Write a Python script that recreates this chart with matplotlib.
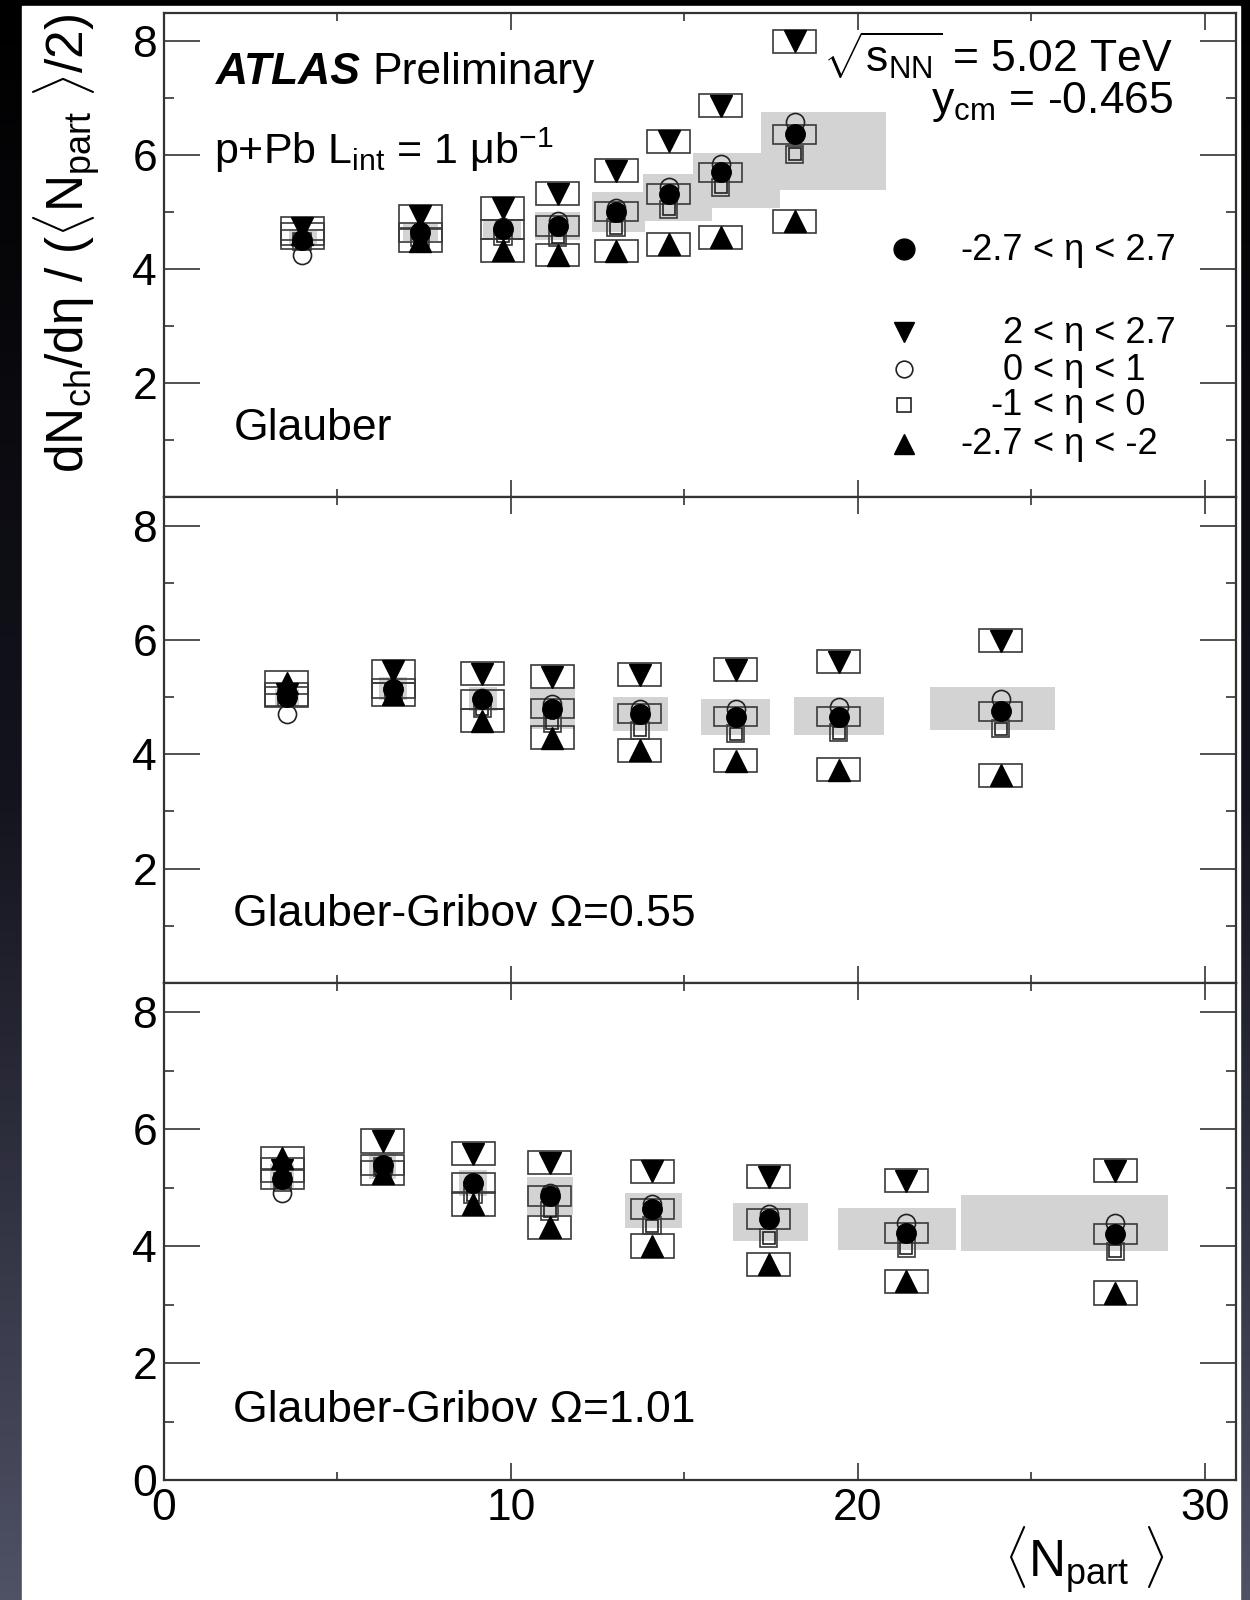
import numpy as np
import matplotlib
matplotlib.use("Agg")
import matplotlib.pyplot as plt
from matplotlib.patches import Rectangle
from matplotlib.colors import LinearSegmentedColormap
from matplotlib.ticker import FixedLocator

plt.rcParams['font.family'] = ['Liberation Sans', 'DejaVu Sans']
plt.rcParams['mathtext.fontset'] = 'custom'
plt.rcParams['mathtext.rm'] = 'Liberation Sans'
plt.rcParams['mathtext.it'] = 'Liberation Sans:italic'
plt.rcParams['mathtext.bf'] = 'Liberation Sans:bold'

# ---- Glauber ----
x1 = [3.98, 7.38, 9.77, 11.35, 13.03, 14.55, 16.05, 18.18]
full1 = [4.52, 4.65, 4.70, 4.76, 5.01, 5.32, 5.70, 6.37]
down1 = [4.72, 4.93, 5.07, 5.33, 5.73, 6.25, 6.87, 8.00]
oc1 = [4.25, 4.62, 4.75, 4.85, 5.08, 5.44, 5.85, 6.58]
sq1 = [4.48, 4.55, 4.58, 4.56, 4.73, 5.05, 5.44, 6.02]
up1 = [4.62, 4.50, 4.33, 4.25, 4.32, 4.44, 4.56, 4.84]
g1_xlo = [3.6, 6.9, 9.2, 10.7, 12.33, 13.8, 15.25, 17.2]
g1_xhi = [4.4, 7.9, 10.3, 12.0, 13.86, 15.8, 17.75, 20.8]
g1_ylo = [4.42, 4.50, 4.55, 4.52, 4.65, 4.84, 5.08, 5.40]
g1_yhi = [4.68, 4.80, 4.88, 5.00, 5.35, 5.67, 6.05, 6.76]

# ---- Glauber-Gribov 0.55 ----
x2 = [3.54, 6.61, 9.18, 11.19, 13.72, 16.48, 19.45, 24.12]
full2 = [5.00, 5.15, 4.96, 4.80, 4.71, 4.66, 4.66, 4.75]
down2 = [5.05, 5.45, 5.41, 5.36, 5.39, 5.48, 5.62, 5.99]
oc2 = [4.70, 5.15, 4.98, 4.88, 4.80, 4.80, 4.83, 4.97]
sq2 = [5.00, 5.10, 4.80, 4.54, 4.42, 4.36, 4.38, 4.45]
up2 = [5.25, 5.05, 4.59, 4.29, 4.07, 3.89, 3.73, 3.63]
g2_xlo = [3.2, 6.2, 8.8, 10.55, 12.94, 15.48, 18.16, 22.07]
g2_xhi = [3.9, 7.0, 9.6, 11.85, 14.53, 17.46, 20.75, 25.68]
g2_ylo = [4.85, 4.95, 4.75, 4.45, 4.40, 4.34, 4.33, 4.43]
g2_yhi = [5.15, 5.35, 5.17, 5.17, 5.01, 4.97, 5.00, 5.18]

# ---- Glauber-Gribov 1.01 ----
x3 = [3.41, 6.30, 8.91, 11.12, 14.07, 17.43, 21.40, 27.42]
full3 = [5.15, 5.38, 5.08, 4.85, 4.64, 4.46, 4.23, 4.20]
down3 = [5.30, 5.80, 5.58, 5.43, 5.28, 5.19, 5.12, 5.29]
oc3 = [4.90, 5.30, 5.08, 4.90, 4.72, 4.55, 4.40, 4.40]
sq3 = [5.10, 5.35, 4.88, 4.60, 4.35, 4.14, 3.97, 3.91]
up3 = [5.50, 5.25, 4.72, 4.32, 4.00, 3.69, 3.40, 3.20]
g3_xlo = [3.05, 5.9, 8.5, 10.45, 13.29, 16.39, 19.43, 22.98]
g3_xhi = [3.75, 6.7, 9.3, 11.80, 14.93, 18.57, 22.84, 28.93]
g3_ylo = [5.00, 5.15, 4.85, 4.54, 4.31, 4.09, 3.94, 3.92]
g3_yhi = [5.40, 5.60, 5.30, 5.19, 4.91, 4.73, 4.65, 4.88]

panel_names = ["Glauber", "Glauber-Gribov Ω=0.55", "Glauber-Gribov Ω=1.01"]
leg_left = ["-2.7", "2", "0", "-1", "-2.7"]
leg_right = ["< η < 2.7", "< η < 2.7", "< η < 1", "< η < 0", "< η < -2"]

EDGE = '#3a3a3a'

fig = plt.figure(figsize=(12.5, 16), dpi=100)

# slide-like dark background with white plot area
bg = fig.add_axes([0, 0, 1, 1], zorder=-10)
cmap = LinearSegmentedColormap.from_list('bg', ['#000000', '#14141e', '#4f5165'])
bg.imshow(np.linspace(0, 1, 256).reshape(-1, 1), cmap=cmap, aspect='auto',
          extent=[0, 1, 0, 1])
bg.add_patch(Rectangle((22 / 1250., 0), (1240 - 22) / 1250., 1 - 6 / 1600.,
                       transform=bg.transAxes, color='white'))
bg.set_xlim(0, 1)
bg.set_ylim(0, 1)
bg.axis('off')

left = 164 / 1250.
width = (1236 - 164) / 1250.
edges = [13, 497, 983, 1480]


def boxes(ax, xs, ys, hw, hh):
    for xi, yi in zip(xs, ys):
        ax.add_patch(Rectangle((xi - hw, yi - hh), 2 * hw, 2 * hh, fill=False,
                               ec=EDGE, lw=1.2, zorder=2))


def draw_panel(ax, x, full, down, oc, sq, up, gxlo, gxhi, gylo, gyhi):
    for i in range(len(x)):
        ax.add_patch(Rectangle((gxlo[i], gylo[i]), gxhi[i] - gxlo[i],
                               gyhi[i] - gylo[i], fc='#d3d3d3', ec='none',
                               zorder=1))
    boxes(ax, x, down, 0.62, 0.2)
    boxes(ax, x, up, 0.62, 0.2)
    boxes(ax, x, full, 0.62, 0.17)
    boxes(ax, x, sq, 0.25, 0.15)
    ax.plot(x, sq, ls='none', marker='s', ms=9, mfc='none', mec='#222222',
            mew=1.2, zorder=3)
    ax.plot(x, oc, ls='none', marker='o', ms=13, mfc='none', mec='#222222',
            mew=1.2, zorder=3)
    ax.plot(x, down, ls='none', marker='v', ms=16, color='black', zorder=4)
    ax.plot(x, up, ls='none', marker='^', ms=16, color='black', zorder=4)
    ax.plot(x, full, ls='none', marker='o', ms=14, color='black', zorder=5)


data = [
    (x1, full1, down1, oc1, sq1, up1, g1_xlo, g1_xhi, g1_ylo, g1_yhi),
    (x2, full2, down2, oc2, sq2, up2, g2_xlo, g2_xhi, g2_ylo, g2_yhi),
    (x3, full3, down3, oc3, sq3, up3, g3_xlo, g3_xhi, g3_ylo, g3_yhi),
]

axes = []
for k in range(3):
    top, bot = edges[k], edges[k + 1]
    ax = fig.add_axes([left, 1 - bot / 1600., width, (bot - top) / 1600.])
    axes.append(ax)
    draw_panel(ax, *data[k])
    ax.set_xlim(0, 30.9)
    ax.set_ylim(0, 8.5)
    ax.xaxis.set_major_locator(FixedLocator([0, 10, 20, 30]))
    ax.xaxis.set_minor_locator(FixedLocator([5, 15, 25]))
    if k < 2:
        ax.yaxis.set_major_locator(FixedLocator([2, 4, 6, 8]))
        ax.tick_params(axis='x', labelbottom=False)
    else:
        ax.yaxis.set_major_locator(FixedLocator([0, 2, 4, 6, 8]))
    ax.yaxis.set_minor_locator(FixedLocator([1, 3, 5, 7]))
    ax.tick_params(which='both', direction='in', top=True, right=True,
                   color='#333333', width=1.2, labelsize=32)
    ax.tick_params(axis='y', which='major', length=26, pad=5)
    ax.tick_params(axis='y', which='minor', length=7)
    ax.tick_params(axis='x', which='major', length=12, pad=6)
    ax.tick_params(axis='x', which='minor', length=6)
    for sp in ax.spines.values():
        sp.set_color('#333333')
        sp.set_linewidth(1.6)
    ax.text(2.0, 1.0, panel_names[k], fontsize=32, va='baseline')

ax1 = axes[0]
ax1.text(1.5, 7.25, 'ATLAS', fontsize=32, weight='bold', style='italic',
         va='baseline')
ax1.text(6.0, 7.25, 'Preliminary', fontsize=32, va='baseline')
ax1.text(1.45, 5.85, r'p+Pb L$_{\mathregular{int}}$ = 1 μb$^{\mathregular{-1}}$',
         fontsize=31, va='baseline')
ax1.text(29.1, 7.45, r'$\sqrt{\mathregular{s}_{\mathregular{NN}}}$ = 5.02 TeV',
         fontsize=32, va='baseline', ha='right')
ax1.text(29.1, 6.74, r'y$_{\mathregular{cm}}$ = -0.465', fontsize=32,
         va='baseline', ha='right')

# legend
leg_y = [4.35, 2.89, 2.24, 1.62, 0.93]
leg_mk = [dict(marker='o', ms=15, color='black'),
          dict(marker='v', ms=14, color='black'),
          dict(marker='o', ms=12, mfc='none', mec='#222222', mew=1.2),
          dict(marker='s', ms=10, mfc='none', mec='#222222', mew=1.2),
          dict(marker='^', ms=14, color='black')]
for yy, mk, lt, rt in zip(leg_y, leg_mk, leg_left, leg_right):
    ax1.plot([21.33], [yy], ls='none', zorder=6, **mk)
    ax1.text(24.75, yy - 0.18, lt, fontsize=26, ha='right', va='baseline')
    ax1.text(25.05, yy - 0.18, rt, fontsize=26, ha='left', va='baseline')

fig.text(67 / 1250., 1 - 14 / 1600.,
         r'dN$_{\mathregular{ch}}$/dη / ($\langle$N$_{\mathregular{part}}$ $\rangle$/2)',
         rotation=90, ha='center', va='top', fontsize=37)
fig.text(1165 / 1250., 1 - 1577 / 1600.,
         r'$\langle$N$_{\mathregular{part}}$ $\rangle$', ha='right',
         va='baseline', fontsize=37)

fig.savefig('out.png', dpi=100)
